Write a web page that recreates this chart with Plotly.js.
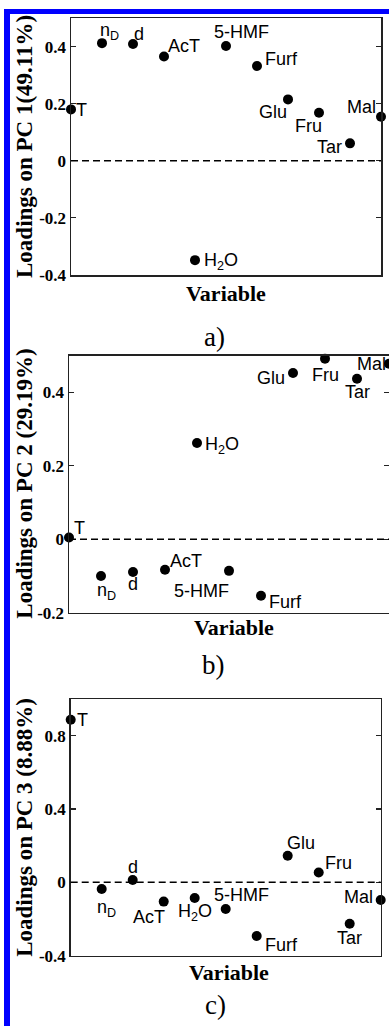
<!DOCTYPE html>
<html>
<head>
<meta charset="utf-8">
<script src="https://cdn.plot.ly/plotly-3.0.1.min.js"></script>
<style>
html,body{margin:0;padding:0;overflow:hidden;background:#fff;width:389px;height:1026px}
#chart{position:absolute;left:0;top:0}
.bl{position:absolute;background:#0000ff;z-index:10}
</style>
</head>
<body>
<div id="chart"></div>
<div class="bl" style="left:4px;top:9px;width:6px;height:1017px"></div>
<div class="bl" style="left:4px;top:9px;width:385px;height:5px"></div>
<script>
// ---- data ----
const variables = ['T', 'nD', 'd', 'AcT', 'H2O', '5-HMF', 'Furf', 'Glu', 'Fru', 'Tar', 'Mal'];
const pointLabels = ['T', 'n<sub>D</sub>', 'd', 'AcT', 'H<sub>2</sub>O', '5-HMF', 'Furf', 'Glu', 'Fru', 'Tar', 'Mal'];
const pc1 = [0.180, 0.412, 0.409, 0.365, -0.348, 0.402, 0.332, 0.215, 0.168, 0.061, 0.154];
const pc2 = [0.005, -0.100, -0.089, -0.083, 0.262, -0.086, -0.154, 0.453, 0.492, 0.437, 0.478];
const pc3 = [0.887, -0.036, 0.013, -0.105, -0.085, -0.145, -0.293, 0.145, 0.054, -0.226, -0.096];
const yTitles = ['Loadings on PC 1(49.11%)', 'Loadings on PC 2 (29.19%)', 'Loadings on PC 3 (8.88%)'];
const xTitle = 'Variable';
const panelTags = ['a)', 'b)', 'c)'];
const tickValsA = [-0.4, -0.2, 0, 0.2, 0.4];
const tickTextA = ['-0.4', '-0.2', '0', '0.2', '0.4'];
const tickValsB = [-0.2, 0, 0.2, 0.4];
const tickTextB = ['-0.2', '0', '0.2', '0.4'];
const tickValsC = [-0.4, 0, 0.4, 0.8];
const tickTextC = ['-0.4', '0', '0.4', '0.8'];

// ---- label offsets (px, dx right, dy down) ----
const offA = [[10,1],[7,-12],[6,-10],[20,-11],[26,1],[15,-14],[24,-7],[-15,13],[-11,13],[-21,4],[-20,-10]];
const offB = [[10,-9],[5,16],[0,12],[21,-9],[25,2],[-28,20],[24,6],[-22,5],[0,16],[0,13],[-18,0]];
const offC = [[12,0],[5,20],[0,-13],[-15,15],[0,15],[16,-14],[25,9],[13,-13],[20,-9],[0,14],[-22,-3]];

// ---- layout geometry (pixels) ----
const W = 400, H = 1026;
const panels = [
  {vals: pc1, off: offA, x: [71, 381], y: [18, 275], range: [-0.4, 0.5], tv: tickValsA, tt: tickTextA, ytx: 24.5, xtPos: [226, 293], tagPos: [214, 337]},
  {vals: pc2, off: offB, x: [69, 389], y: [355.7, 612.7], range: [-0.2, 0.5], tv: tickValsB, tt: tickTextB, ytx: 24.5, xtPos: [234, 627], tagPos: [213, 665]},
  {vals: pc3, off: offC, x: [70.7, 380.7], y: [699, 955.7], range: [-0.4, 1.0], tv: tickValsC, tt: tickTextC, ytx: 24.5, xtPos: [229, 972], tagPos: [215, 1005]}
];
const px = v => v / W;
const py = v => (H - v) / H;

const serif = 'Liberation Serif, Times New Roman, serif';
const sans = 'Liberation Sans, Arial, sans-serif';

const data = [];
const layout = {
  width: W, height: H,
  margin: {l: 0, r: 0, t: 0, b: 0},
  paper_bgcolor: '#fff', plot_bgcolor: '#fff',
  showlegend: false,
  annotations: [], shapes: []
};

panels.forEach((p, i) => {
  const n = i === 0 ? '' : String(i + 1);
  const xa = 'x' + n, ya = 'y' + n;
  data.push({
    type: 'scatter', mode: 'markers',
    x: variables, y: p.vals,
    xaxis: xa, yaxis: ya,
    cliponaxis: false,
    marker: {color: '#000', size: 10},
    hoverinfo: 'skip'
  });
  layout['xaxis' + n] = {
    domain: [px(p.x[0]), px(p.x[1])],
    anchor: ya, type: 'category',
    categoryorder: 'array', categoryarray: variables,
    range: [0, variables.length - 1],
    showticklabels: false, ticks: '',
    showline: true, mirror: true, linecolor: '#222', linewidth: 1.5,
    showgrid: false, zeroline: false, fixedrange: true
  };
  layout['yaxis' + n] = {
    domain: [py(p.y[1]), py(p.y[0])],
    anchor: xa, range: p.range,
    tickmode: 'array', tickvals: p.tv, ticktext: p.tt,
    ticks: 'inside', ticklen: 5, tickwidth: 1.2, tickcolor: '#222',
    showline: true, mirror: 'ticks', linecolor: '#222', linewidth: 1.5,
    showgrid: false, zeroline: false, fixedrange: true,
    tickfont: {family: serif, size: 17, color: '#000', weight: 'bold'}
  };
  layout.shapes.push({
    type: 'line', xref: xa + ' domain', yref: ya,
    x0: 0, x1: 1, y0: 0, y1: 0,
    line: {color: '#000', width: 1.5, dash: '7px,4px'}
  });
  p.vals.forEach((v, k) => {
    layout.annotations.push({
      xref: xa, yref: ya, x: variables[k], y: v,
      text: pointLabels[k], showarrow: false,
      xanchor: 'center', yanchor: 'middle',
      xshift: p.off[k][0], yshift: -p.off[k][1],
      font: {family: sans, size: 18, color: '#000'}
    });
  });
  layout.annotations.push({
    xref: 'paper', yref: 'paper',
    x: px(p.ytx), y: py((p.y[0] + p.y[1]) / 2),
    text: '<b>' + yTitles[i] + '</b>', textangle: -90, showarrow: false,
    xanchor: 'center', yanchor: 'middle',
    font: {family: serif, size: 23, color: '#000'}
  });
  layout.annotations.push({
    xref: 'paper', yref: 'paper',
    x: px(p.xtPos[0]), y: py(p.xtPos[1]),
    text: '<b>' + xTitle + '</b>', showarrow: false,
    xanchor: 'center', yanchor: 'middle',
    font: {family: serif, size: 22, color: '#000'}
  });
  layout.annotations.push({
    xref: 'paper', yref: 'paper',
    x: px(p.tagPos[0]), y: py(p.tagPos[1]),
    text: panelTags[i], showarrow: false,
    xanchor: 'center', yanchor: 'middle',
    font: {family: serif, size: 27, color: '#000'}
  });
});

Plotly.newPlot('chart', data, layout, {staticPlot: true, displayModeBar: false});
</script>
</body>
</html>
